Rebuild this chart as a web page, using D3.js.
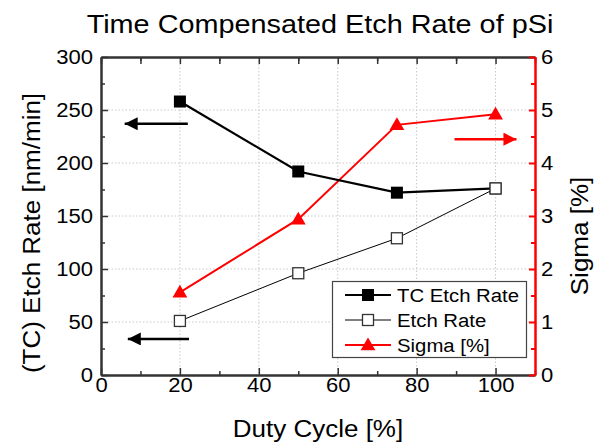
<!DOCTYPE html>
<html><head><meta charset="utf-8">
<script src="https://cdn.jsdelivr.net/npm/d3@7"></script>
<style>body{margin:0;background:#fff}svg{display:block;font-family:"Liberation Sans",Arial,sans-serif}</style>
</head><body><svg id="c" width="602" height="442"></svg>
<script>
const dutyCycle = [20, 50, 75, 100];
const tcEtchRate = [258, 192, 172, 176];
const etchRate = [51, 96, 129, 176];
const sigma = [1.56, 2.94, 4.72, 4.92];
const xTicks = [0, 20, 40, 60, 80, 100];
const yLeftTicks = [0, 50, 100, 150, 200, 250, 300];
const yRightTicks = [0, 1, 2, 3, 4, 5, 6];
const seriesNames = ["TC Etch Rate", "Etch Rate", "Sigma [%]"];
const title = "Time Compensated Etch Rate of pSi";
const xLabel = "Duty Cycle [%]";
const yLeftLabel = "(TC) Etch Rate [nm/min]";
const yRightLabel = "Sigma [%]";
// annotation arrows: [x1, x2(tip), y] in data units
const leftArrows = [[22, 6, 237], [22.3, 6.8, 34]];
const rightArrows = [[89.6, 105.3, 4.45]];

const svg = d3.select("#c");
const L = 101, R = 535, T = 57, B = 375;
const SX = 1.13; // horizontal text stretch of the original
const x = d3.scaleLinear().domain([0, 110]).range([L, R]);
const y = d3.scaleLinear().domain([0, 300]).range([B, T]);
const y2 = d3.scaleLinear().domain([0, 6]).range([B, T]);

function stretch(sel) {
  sel.each(function () {
    const len = this.getComputedTextLength();
    d3.select(this).attr("textLength", len * SX).attr("lengthAdjust", "spacingAndGlyphs");
  });
}

const defs = svg.append("defs");
function marker(id, color) {
  defs.append("marker").attr("id", id).attr("viewBox", "0 0 10 10").attr("refX", 10).attr("refY", 5)
    .attr("markerWidth", 14).attr("markerHeight", 13).attr("markerUnits", "userSpaceOnUse").attr("orient", "auto")
    .append("path").attr("d", "M0,0 L10,5 L0,10 Z").attr("fill", color);
}
marker("ab", "#000"); marker("ar", "#f00");

// grid
const grid = svg.append("g").attr("stroke", "#c8c8c8").attr("stroke-width", 1).attr("stroke-dasharray", "1.5,2");
grid.selectAll(".gx").data(xTicks.filter(d => d > 0)).join("line")
  .attr("x1", d => x(d)).attr("x2", d => x(d)).attr("y1", T).attr("y2", B);
grid.selectAll(".gy").data(yLeftTicks.filter(d => d > 0 && d < 300)).join("line")
  .attr("y1", d => y(d)).attr("y2", d => y(d)).attr("x1", L).attr("x2", R);

// axes
const fs = 19.5;
const axB = svg.append("g").attr("transform", `translate(0,${B})`)
  .call(d3.axisBottom(x).tickValues(xTicks).tickSize(-7).tickPadding(3).tickSizeOuter(0));
const axT = svg.append("g").attr("transform", `translate(0,${T})`)
  .call(d3.axisTop(x).tickValues(d3.range(0, 111, 10)).tickSize(-7).tickFormat("").tickSizeOuter(0));
const axBm = svg.append("g").attr("transform", `translate(0,${B})`)
  .call(d3.axisBottom(x).tickValues(d3.range(10, 111, 20)).tickSize(-4).tickFormat("").tickSizeOuter(0));
const axTm = svg.append("g").attr("transform", `translate(0,${T})`)
  .call(d3.axisTop(x).tickValues(d3.range(10, 111, 20)).tickSize(-4).tickFormat("").tickSizeOuter(0));
const axL = svg.append("g").attr("transform", `translate(${L},0)`)
  .call(d3.axisLeft(y).tickValues(yLeftTicks).tickSize(-7).tickPadding(8).tickSizeOuter(0));
const axLm = svg.append("g").attr("transform", `translate(${L},0)`)
  .call(d3.axisLeft(y).tickValues(d3.range(25, 300, 50)).tickSize(-4).tickFormat("").tickSizeOuter(0));
const axR = svg.append("g").attr("transform", `translate(${R},0)`)
  .call(d3.axisRight(y2).tickValues(yRightTicks).tickFormat(d3.format("d")).tickSize(-6).tickPadding(6).tickSizeOuter(0));
const axRm = svg.append("g").attr("transform", `translate(${R},0)`)
  .call(d3.axisRight(y2).tickValues(d3.range(0.5, 6, 1)).tickSize(-4).tickFormat("").tickSizeOuter(0));

[axB, axT, axBm, axTm, axL, axLm].forEach(a => {
  a.selectAll("path").attr("stroke", "#333").attr("stroke-width", 2);
  a.selectAll("line").attr("stroke", "#333").attr("stroke-width", 1.5);
});
[axR, axRm].forEach(a => {
  a.selectAll("path").attr("stroke", "#f00").attr("stroke-width", 2);
  a.selectAll("line").attr("stroke", "#f00").attr("stroke-width", 2);
});
[axB, axL, axR].forEach(a => a.selectAll("text").attr("font-size", fs).attr("font-family", "Liberation Sans, Arial, sans-serif").attr("fill", "#000").call(stretch));
svg.selectAll(".domain").attr("fill", "none");

// titles
svg.append("text").attr("x", 320).attr("y", 33).attr("text-anchor", "middle").attr("font-size", 25.5).text(title).call(stretch);
svg.append("text").attr("x", (L + R) / 2).attr("y", 437).attr("text-anchor", "middle").attr("font-size", 23).text(xLabel).call(stretch);
svg.append("text").attr("transform", `translate(39.5,233) rotate(-90)`).attr("text-anchor", "middle").attr("font-size", 23).text(yLeftLabel).call(stretch);
svg.append("text").attr("transform", `translate(588,236) rotate(-90)`).attr("text-anchor", "middle").attr("font-size", 23).text(yRightLabel).call(stretch);

// lines
const line1 = d3.line().x((d, i) => x(dutyCycle[i])).y(d => y(d));
const line2 = d3.line().x((d, i) => x(dutyCycle[i])).y(d => y2(d));
svg.append("path").datum(etchRate).attr("d", line1).attr("fill", "none").attr("stroke", "#000").attr("stroke-width", 1);
svg.append("path").datum(sigma).attr("d", line2).attr("fill", "none").attr("stroke", "#f00").attr("stroke-width", 2);
svg.append("path").datum(tcEtchRate).attr("d", line1).attr("fill", "none").attr("stroke", "#000").attr("stroke-width", 2.2);

const sq = 12, tri = d3.symbol().type(d3.symbolTriangle).size(95);
svg.selectAll(".tc").data(tcEtchRate).join("rect")
  .attr("x", (d, i) => x(dutyCycle[i]) - sq / 2).attr("y", d => y(d) - sq / 2).attr("width", sq).attr("height", sq).attr("fill", "#000");
svg.selectAll(".er").data(etchRate).join("rect")
  .attr("x", (d, i) => x(dutyCycle[i]) - sq / 2 + 0.5).attr("y", d => y(d) - sq / 2 + 0.5).attr("width", sq - 1).attr("height", sq - 1)
  .attr("fill", "#fff").attr("stroke", "#333").attr("stroke-width", 1.3);
svg.selectAll(".sg").data(sigma).join("path").attr("d", tri)
  .attr("transform", (d, i) => `translate(${x(dutyCycle[i])},${y2(d) + 1})`).attr("fill", "#f00");

// arrows
svg.selectAll(".al").data(leftArrows).join("line")
  .attr("x1", d => x(d[0])).attr("x2", d => x(d[1])).attr("y1", d => y(d[2])).attr("y2", d => y(d[2]))
  .attr("stroke", "#000").attr("stroke-width", 2.5).attr("marker-end", "url(#ab)");
svg.selectAll(".ar").data(rightArrows).join("line")
  .attr("x1", d => x(d[0])).attr("x2", d => x(d[1])).attr("y1", d => y2(d[2])).attr("y2", d => y2(d[2]))
  .attr("stroke", "#f00").attr("stroke-width", 2.5).attr("marker-end", "url(#ar)");

// legend
const lg = svg.append("g");
lg.append("rect").attr("x", 332.5).attr("y", 281.5).attr("width", 194).attr("height", 76).attr("fill", "#fff").attr("stroke", "#444").attr("stroke-width", 1.2);
const ly = [295, 320, 345];
seriesNames.forEach((name, i) => {
  const g = lg.append("g");
  const col = i === 2 ? "#f00" : "#000";
  g.append("line").attr("x1", 345).attr("x2", 391).attr("y1", ly[i]).attr("y2", ly[i]).attr("stroke", col).attr("stroke-width", i === 1 ? 1 : 2);
  if (i === 0) g.append("rect").attr("x", 362).attr("y", ly[i] - 6).attr("width", 12).attr("height", 12).attr("fill", "#000");
  if (i === 1) g.append("rect").attr("x", 362.5).attr("y", ly[i] - 5.5).attr("width", 11).attr("height", 11).attr("fill", "#fff").attr("stroke", "#333").attr("stroke-width", 1.3);
  if (i === 2) g.append("path").attr("d", tri).attr("transform", `translate(368,${ly[i] + 1})`).attr("fill", "#f00");
  g.append("text").attr("x", 397).attr("y", ly[i] + 6.5).attr("font-size", 18).text(name).call(stretch);
});
</script></body></html>
